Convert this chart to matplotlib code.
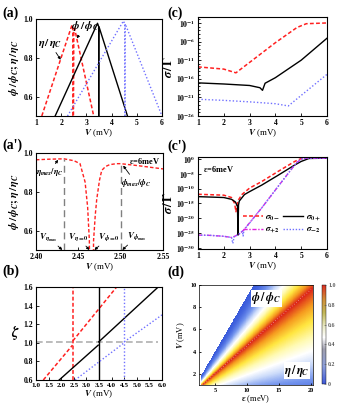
import numpy as np
import matplotlib
matplotlib.use('Agg')
import matplotlib.pyplot as plt
from matplotlib.colors import LinearSegmentedColormap
import matplotlib.ticker as mt

plt.rcParams['font.family'] = ['Liberation Serif', 'DejaVu Serif']
plt.rcParams['font.weight'] = 'bold'
plt.rcParams['mathtext.fontset'] = 'stix'
plt.rcParams['axes.linewidth'] = 0.8
plt.rcParams['xtick.direction'] = 'in'
plt.rcParams['ytick.direction'] = 'in'
plt.rcParams['xtick.major.size'] = 2.5
plt.rcParams['ytick.major.size'] = 2.5
plt.rcParams['xtick.minor.size'] = 1.3
plt.rcParams['ytick.minor.size'] = 1.3
plt.rcParams['xtick.major.width'] = 0.6
plt.rcParams['ytick.major.width'] = 0.6
plt.rcParams['xtick.labelsize'] = 5.5
plt.rcParams['ytick.labelsize'] = 5.5
plt.rcParams['xtick.major.pad'] = 2
plt.rcParams['ytick.major.pad'] = 2

RED = '#ff2020'
BLUE = '#7070ff'
MAG = '#e020e0'
RDASH = (0, (2.5, 1.5))
BDOT = (0, (1, 1.5))

# ---------------- data: panel (a) ----------------
a_red_eta_V = [1.23, 2.43, 2.46, 2.465]
a_red_eta = [0.5, 0.97, 0.95, 0.0]
a_red_phi_V = [2.468, 2.50, 2.53, 3.29]
a_red_phi = [0.0, 0.93, 0.952, 0.5]
a_blk_eta_V = [1.76, 3.44, 3.49, 3.49]
a_blk_eta = [0.5, 0.978, 0.96, 0.0]
a_blk_phi_V = [3.49, 3.50, 4.63]
a_blk_phi = [0.0, 0.96, 0.5]
a_blu_eta_V = [2.25, 4.47, 4.52, 4.525]
a_blu_eta = [0.5, 0.99, 0.975, 0.0]
a_blu_phi_V = [4.53, 4.54, 6.0]
a_blu_phi = [0.0, 0.975, 0.5]

# ---------------- data: panel (c) (log10 sigma/Gamma) ----------------
c_red_V = [1.0, 2.0, 2.47, 3.0, 4.0, 4.84, 5.2, 6.0]
c_red = [-12.8, -13.4, -14.4, -11.6, -6.3, -2.2, -1.2, -1.0]
c_blk_V = [1.0, 2.0, 3.0, 3.4, 3.5, 3.6, 4.0, 5.0, 6.0]
c_blk = [-17.1, -17.4, -17.8, -18.4, -19.1, -17.2, -15.7, -11.0, -5.1]
c_blu_V = [1.0, 2.0, 3.0, 4.0, 4.5, 6.0]
c_blu = [-21.5, -21.8, -22.2, -22.7, -23.3, -14.8]

# ---------------- data: panel (a') ----------------
ap_eta_V = [2.40, 2.415, 2.433, 2.445, 2.452, 2.458, 2.461, 2.463, 2.4645]
ap_eta = [0.965, 0.968, 0.970, 0.960, 0.945, 0.85, 0.72, 0.55, 0.0]
ap_phi_V = [2.4665, 2.468, 2.470, 2.4717, 2.475, 2.4776, 2.482, 2.487, 2.495, 2.50, 2.52, 2.55]
ap_phi = [0.0, 0.55, 0.68, 0.76, 0.86, 0.91, 0.93, 0.94, 0.945, 0.945, 0.935, 0.918]
ap_guides_V = [2.433, 2.50]
ap_guides_top = [0.968, 0.945]

# ---------------- data: panel (c') (log10 sigma/Gamma), eps = 6 meV ----------------
cp_0m_V = [1.0, 2.0, 2.3, 2.42, 2.47, 2.52, 2.57, 2.7, 3.0, 3.47, 4.1, 4.75, 5.0, 5.3, 6.0]
cp_0m = [-11.9, -12.2, -13.0, -15.0, -17.8, -15.0, -13.8, -12.0, -9.8, -7.6, -4.2, -0.8, 0.2, 0.3, 0.3]
cp_0p_V = [1.0, 2.0, 2.3, 2.45, 2.53, 2.55, 2.57, 2.6, 2.8, 3.0, 3.47, 4.1, 4.75, 5.0, 5.3, 6.0]
cp_0p = [-12.7, -13.0, -13.6, -14.5, -16.0, -25.7, -15.5, -14.2, -12.0, -11.0, -8.8, -5.5, -2.0, -0.8, 0.2, 0.3]
cp_p2_V = [1.0, 1.5, 2.0, 2.3, 2.45, 2.6, 2.77, 3.47, 4.1, 4.8, 5.0, 5.2, 6.0]
cp_p2 = [-25.7, -25.8, -26.1, -26.5, -26.0, -25.3, -24.0, -16.5, -9.3, -1.4, 0.0, 0.3, 0.3]
cp_m2_V = [1.0, 1.5, 2.0, 2.3, 2.35, 2.4, 2.6, 2.72, 2.75, 2.78, 3.47, 4.1, 4.8, 5.0, 5.2, 6.0]
cp_m2 = [-25.7, -25.8, -26.1, -26.5, -28.5, -26.3, -25.3, -24.4, -26.0, -24.0, -16.5, -9.3, -1.4, 0.0, 0.3, 0.3]

# ---------------- data: panel (b) ----------------
b_red_lo_V = [1.29, 2.45]; b_red_lo = [0.6, 0.975]
b_red_hi_V = [2.46, 4.2]; b_red_hi = [1.02, 1.6]
b_blk_lo_V = [1.92, 3.47]; b_blk_lo = [0.6, 0.975]
b_blk_hi_V = [3.49, 5.85]; b_blk_hi = [1.01, 1.6]
b_blu_lo_V = [2.55, 4.5]; b_blu_lo = [0.6, 1.0]
b_blu_hi_V = [4.5, 6.0]; b_blu_hi = [1.01, 1.3]
b_jumps = [2.46, 3.49, 4.5]
b_ref_V = [1.0, 5.85]; b_ref = [1.01, 1.01]

# ---------------- data: panel (d) ----------------
d_eps_nodes = [3.0, 20.0]
d_ridge_V = [1.0, 9.6]     # V at the red ridge (max)
d_edge_V = [2.0, 19.0]     # V where phi/phi_C reaches 0
d_phi_power = 2.0

fig = plt.figure(figsize=(3.38, 4.05), dpi=100)

def frac(l, t, r, b):
    W, H = 338.0, 405.0
    return [l / W, 1 - b / H, (r - l) / W, (b - t) / H]

def vlabel(ax, pad=0.5):
    ax.set_xlabel(r'$\boldsymbol{V}$ (mV)', fontsize=6.5, labelpad=pad)

def plab(x, y, s):
    fig.text(x / 338.0, 1 - y / 405.0, s, fontsize=10, fontweight='bold', va='center', ha='left')

lw = 1.0
# ---------- (a) ----------
ax = fig.add_axes(frac(36, 19, 162, 116))
ax.plot(a_red_eta_V, a_red_eta, color=RED, ls=RDASH, lw=1.1)
ax.plot(a_red_phi_V, a_red_phi, color=RED, ls=RDASH, lw=1.1)
ax.plot(a_blk_eta_V, a_blk_eta, color='k', lw=lw)
ax.plot(a_blk_phi_V, a_blk_phi, color='k', lw=lw)
ax.plot(a_blu_eta_V, a_blu_eta, color=BLUE, ls=BDOT, lw=lw)
ax.plot(a_blu_phi_V, a_blu_phi, color=BLUE, ls=BDOT, lw=lw)
ax.set_xlim(1, 6); ax.set_ylim(0.5, 1.0)
ax.set_xticks([1, 2, 3, 4, 5, 6]); ax.set_yticks([0.6, 0.8, 1.0])
ax.yaxis.set_major_formatter(mt.FormatStrFormatter('%.1f'))
ax.set_ylabel(r'$\boldsymbol{\phi\,/\,\phi_C;\eta\,/\,\eta_C}$', fontsize=8, labelpad=2)
vlabel(ax)
ap = dict(arrowstyle='-|>', lw=0.6, color='k', mutation_scale=4, shrinkA=0, shrinkB=0)
ax.annotate(r'$\boldsymbol{\eta\,/\,\eta_C}$', xy=(1.98, 0.79), xytext=(1.55, 0.875),
            fontsize=8, ha='center', va='center', arrowprops=ap)
ax.annotate(r'$\boldsymbol{\phi\,/\,\phi_C}$', xy=(2.62, 0.9), xytext=(2.95, 0.965),
            fontsize=8, ha='center', va='center', arrowprops=ap)
plab(2, 13, '(a)')

# ---------- (c) ----------
ax = fig.add_axes(frac(198, 17, 327, 116))
ax.plot(c_red_V, 10 ** np.array(c_red), color=RED, ls=RDASH, lw=1.1)
ax.plot(c_blk_V, 10 ** np.array(c_blk), color='k', lw=lw)
ax.plot(c_blu_V, 10 ** np.array(c_blu), color=BLUE, ls=BDOT, lw=lw)
ax.set_yscale('log')
ax.set_xlim(1, 6); ax.set_ylim(1e-26, 10 ** 0.6)
ax.set_xticks([1, 2, 3, 4, 5, 6])
ax.set_yticks([10.0 ** k for k in [-26, -21, -16, -11, -6, -1]])
ax.set_yticklabels([r'$\mathbf{10^{%d}}$' % k for k in [-26, -21, -16, -11, -6, -1]])
ax.yaxis.set_minor_locator(mt.FixedLocator([10.0 ** k for k in range(-26, 1)]))
ax.yaxis.set_minor_formatter(mt.NullFormatter())
ax.set_ylabel(r'$\boldsymbol{\sigma\,/\,\Gamma}$', fontsize=9, labelpad=1)
vlabel(ax)
plab(167, 13, '(c)')

# ---------- (a') ----------
ax = fig.add_axes(frac(36, 153, 163, 250))
ax.plot(ap_eta_V, ap_eta, color=RED, ls=RDASH, lw=1.0)
ax.plot(ap_phi_V, ap_phi, color=RED, ls=RDASH, lw=1.0)
for gv, gt in zip(ap_guides_V, ap_guides_top):
    ax.plot([gv, gv], [0.5, gt], color='#808080', ls=(0, (5, 3)), lw=1.0)
ax.set_xlim(2.40, 2.55); ax.set_ylim(0.5, 1.0)
ax.set_xticks([2.40, 2.45, 2.50, 2.55]); ax.set_yticks([0.6, 0.8, 1.0])
ax.xaxis.set_major_formatter(mt.FormatStrFormatter('%.2f'))
ax.yaxis.set_major_formatter(mt.FormatStrFormatter('%.1f'))
ax.set_ylabel(r'$\boldsymbol{\phi\,/\,\phi_C;\eta\,/\,\eta_C}$', fontsize=8, labelpad=2)
vlabel(ax)
ax.text(2.547, 0.96, r'$\mathbf{\varepsilon}$=6meV', fontsize=6, ha='right', va='center')
ax.annotate(r'$\boldsymbol{\eta_{max}/\eta_C}$', xy=(2.426, 0.965), xytext=(2.416, 0.9),
            fontsize=6, ha='center', va='center', arrowprops=ap)
ax.annotate(r'$\boldsymbol{\phi_{max}/\phi_C}$', xy=(2.503, 0.935), xytext=(2.518, 0.845),
            fontsize=6, ha='center', va='center', arrowprops=ap)
ax.annotate(r'$\boldsymbol{V_{\eta_{max}}}$', xy=(2.431, 0.5), xytext=(2.415, 0.565),
            fontsize=6.5, ha='center', va='center', arrowprops=ap)
ax.annotate(r'$\boldsymbol{V_{\eta=0}}$', xy=(2.463, 0.5), xytext=(2.450, 0.565),
            fontsize=6.5, ha='center', va='center', arrowprops=ap)
ax.annotate(r'$\boldsymbol{V_{\phi=0}}$', xy=(2.469, 0.5), xytext=(2.486, 0.565),
            fontsize=6.5, ha='center', va='center', arrowprops=ap)
ax.annotate(r'$\boldsymbol{V_{\phi_{max}}}$', xy=(2.502, 0.5), xytext=(2.519, 0.57),
            fontsize=6.5, ha='center', va='center', arrowprops=ap)
plab(2, 145, "(a')")

# ---------- (c') ----------
ax = fig.add_axes(frac(198, 157, 327, 249))
h1, = ax.plot(cp_0m_V, 10 ** np.array(cp_0m), color=RED, ls=RDASH, lw=1.1)
h2, = ax.plot(cp_0p_V, 10 ** np.array(cp_0p), color='k', lw=lw)
h3, = ax.plot(cp_p2_V, 10 ** np.array(cp_p2), color=MAG, ls=(0, (3, 1.2, 1, 1.2)), lw=lw)
h4, = ax.plot(cp_m2_V, 10 ** np.array(cp_m2), color=BLUE, ls=(0, (1, 1.2)), lw=lw)
ax.set_yscale('log')
ax.set_xlim(1, 6); ax.set_ylim(10 ** -30.4, 10 ** 0.7)
ax.set_xticks([1, 2, 3, 4, 5, 6])
yk = [-30, -25, -20, -15, -10, -5, 0]
ax.set_yticks([10.0 ** k for k in yk])
ax.set_yticklabels([r'$\mathbf{10^{%d}}$' % k for k in yk])
ax.yaxis.set_minor_locator(mt.NullLocator())
ax.set_ylabel(r'$\boldsymbol{\sigma\,/\,\Gamma}$', fontsize=9, labelpad=1)
vlabel(ax)
ax.text(1.2, 10 ** -3.3, r'$\mathbf{\varepsilon}$=6meV', fontsize=6, ha='left', va='center')
leg = ax.legend([h1, h3, h2, h4],
                [r'$\boldsymbol{\sigma_{0-}}$', r'$\boldsymbol{\sigma_{+2}}$',
                 r'$\boldsymbol{\sigma_{0+}}$', r'$\boldsymbol{\sigma_{-2}}$'],
                ncol=2, loc='lower right', bbox_to_anchor=(1.0, 0.08), frameon=False,
                fontsize=6.5, handlelength=2.2, handletextpad=0.3, columnspacing=0.3,
                labelspacing=0.3, borderpad=0.2)
plab(167, 146, "(c')")

# ---------- (b) ----------
ax = fig.add_axes(frac(36, 287, 162, 380))
ax.plot(b_ref_V, b_ref, color='#b0b0b0', ls=(0, (4, 2)), lw=1.2)
ax.plot(b_red_lo_V, b_red_lo, color=RED, ls=RDASH, lw=1.1)
ax.plot(b_red_hi_V, b_red_hi, color=RED, ls=RDASH, lw=1.1)
ax.axvline(b_jumps[0], color=RED, ls=RDASH, lw=1.1)
ax.plot(b_blk_lo_V, b_blk_lo, color='k', lw=lw)
ax.plot(b_blk_hi_V, b_blk_hi, color='k', lw=lw)
ax.axvline(b_jumps[1], color='k', lw=lw)
ax.plot(b_blu_lo_V, b_blu_lo, color=BLUE, ls=BDOT, lw=lw)
ax.plot(b_blu_hi_V, b_blu_hi, color=BLUE, ls=BDOT, lw=lw)
ax.axvline(b_jumps[2], color=BLUE, ls=BDOT, lw=lw)
ax.set_xlim(1.0, 6.0); ax.set_ylim(0.6, 1.6)
ax.set_xticks(np.arange(1.0, 6.01, 0.5)); ax.set_yticks([0.6, 0.8, 1.0, 1.2, 1.4, 1.6])
ax.xaxis.set_major_formatter(mt.FormatStrFormatter('%.1f'))
ax.yaxis.set_major_formatter(mt.FormatStrFormatter('%.1f'))
ax.tick_params(axis='x', labelsize=5.2)
ax.set_ylabel(r'$\boldsymbol{\zeta}$', fontsize=10, rotation=0, labelpad=6, va='center')
vlabel(ax)
plab(2, 271, '(b)')

# ---------- (d) ----------
ax = fig.add_axes(frac(199, 285, 313, 385))
cm = LinearSegmentedColormap.from_list('tm', [
    (0.00, (0.23, 0.36, 0.86)),
    (0.15, (0.45, 0.58, 0.93)),
    (0.30, (0.80, 0.86, 0.98)),
    (0.42, (1.00, 1.00, 1.00)),
    (0.55, (1.00, 0.98, 0.70)),
    (0.70, (1.00, 0.90, 0.25)),
    (0.85, (0.96, 0.60, 0.12)),
    (1.00, (0.86, 0.14, 0.10))])
eg = np.linspace(2.5, 20.3, 360)
vg = np.linspace(1.0, 10.0, 300)
E, VV = np.meshgrid(eg, vg)
ridge = np.polyval(np.polyfit(d_eps_nodes, d_ridge_V, 1), E)
edge = np.polyval(np.polyfit(d_eps_nodes, d_edge_V, 1), E)
Z = np.where(VV <= ridge, VV / ridge, ((edge - VV) / (edge - ridge)).clip(0) ** d_phi_power)
Z = np.where(VV > edge, np.nan, Z)
Z = np.where(E < 2.75, np.nan, Z)
Z = np.ma.masked_invalid(Z)
im = ax.pcolormesh(E, VV, Z, cmap=cm, vmin=0, vmax=1, shading='auto', rasterized=True)
ax.plot(d_eps_nodes, d_ridge_V, color='white', ls=(0, (1, 3)), lw=0.5, alpha=0.7)
ax.set_xlim(2.5, 20.3); ax.set_ylim(1, 10)
ax.set_xticks([5, 10, 15, 20]); ax.set_yticks([2, 4, 6, 8, 10])
ax.tick_params(labelsize=4.5, length=1.5)
for s in ax.spines.values():
    s.set_linewidth(0.5)
ax.set_xlabel(r'$\boldsymbol{\varepsilon}$ (meV)', fontsize=6, labelpad=0.5)
ax.set_ylabel(r'$\boldsymbol{V}$ (mV)', fontsize=6, labelpad=2)
ax.text(13.0, 8.8, r'$\boldsymbol{\phi\,/\,\phi_C}$', fontsize=8.5, ha='center', va='center',
        bbox=dict(facecolor='white', edgecolor='none', pad=0.5))
ax.text(17.8, 2.3, r'$\boldsymbol{\eta\,/\,\eta_C}$', fontsize=8.5, ha='center', va='center',
        bbox=dict(facecolor='white', edgecolor='none', pad=0.5))
cax = fig.add_axes(frac(321.5, 285, 326, 384))
cbm = LinearSegmentedColormap.from_list('bar', [
    (0.00, (0.25, 0.35, 0.85)),
    (0.18, (0.55, 0.62, 0.85)),
    (0.35, (0.62, 0.62, 0.68)),
    (0.47, (1.00, 1.00, 1.00)),
    (0.58, (0.92, 0.92, 0.78)),
    (0.72, (0.76, 0.72, 0.35)),
    (0.86, (0.82, 0.55, 0.22)),
    (1.00, (0.86, 0.18, 0.14))])
sm = matplotlib.cm.ScalarMappable(cmap=cbm, norm=matplotlib.colors.Normalize(0, 1))
cb = fig.colorbar(sm, cax=cax, ticks=[0, 0.2, 0.4, 0.6, 0.8, 1.0])
cb.ax.set_yticklabels(['0', '0.2', '0.4', '0.6', '0.8', '1.0'])
cb.ax.tick_params(labelsize=4.2, length=1.5, width=0.4, colors='#606060', pad=1.5)
cb.outline.set_linewidth(0.3)
plab(167, 272, '(d)')

fig.savefig('out.png', dpi=100)
